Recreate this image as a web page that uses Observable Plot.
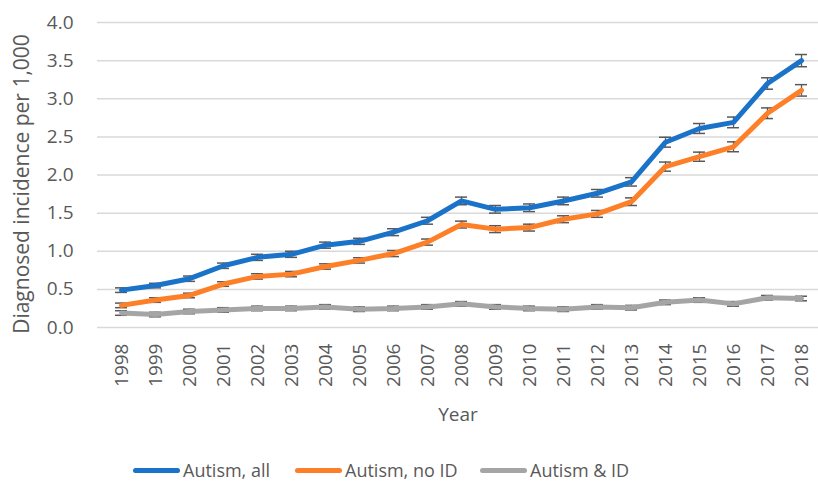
<!DOCTYPE html>
<html>
<head>
<meta charset="utf-8">
<script src="https://cdn.jsdelivr.net/npm/d3@7"></script>
<script src="https://cdn.jsdelivr.net/npm/@observablehq/plot@0.6"></script>
<style>
  html, body { margin: 0; padding: 0; background: #fff; }
  body { width: 818px; height: 489px; overflow: hidden; font-family: "Open Sans", sans-serif; }
  #legend { position: relative; height: 49px; }
  .item { position: absolute; top: 18px; display: flex; align-items: center; font-size: 18px; color: #595959; }
  .swatch { width: 47px; height: 5px; border-radius: 3px; margin-right: 3px; }
</style>
</head>
<body>
<div id="chart"></div>
<div id="legend"></div>
<script>
const years = [1998,1999,2000,2001,2002,2003,2004,2005,2006,2007,2008,2009,2010,2011,2012,2013,2014,2015,2016,2017,2018];
const autismAll  = [0.49,0.55,0.64,0.81,0.92,0.96,1.08,1.13,1.25,1.40,1.66,1.55,1.57,1.66,1.76,1.91,2.43,2.61,2.69,3.20,3.50];
const autismNoID = [0.29,0.36,0.42,0.57,0.67,0.70,0.80,0.88,0.97,1.12,1.35,1.29,1.31,1.42,1.49,1.65,2.11,2.24,2.37,2.81,3.11];
const autismID   = [0.19,0.17,0.21,0.23,0.25,0.25,0.27,0.24,0.25,0.27,0.31,0.27,0.25,0.24,0.27,0.26,0.33,0.36,0.31,0.39,0.38];
const errAll  = [0.03,0.03,0.035,0.035,0.04,0.04,0.04,0.04,0.045,0.045,0.05,0.05,0.05,0.05,0.05,0.055,0.065,0.065,0.07,0.075,0.08];
const errNoID = [0.03,0.03,0.03,0.03,0.035,0.035,0.035,0.035,0.04,0.04,0.045,0.045,0.045,0.045,0.045,0.05,0.06,0.06,0.065,0.07,0.075];
const errID   = [0.03,0.03,0.03,0.03,0.03,0.03,0.03,0.03,0.03,0.03,0.03,0.03,0.03,0.03,0.03,0.03,0.03,0.03,0.03,0.03,0.03];
const seriesNames = ["Autism, all", "Autism, no ID", "Autism & ID"];
const seriesColors = ["#1a73c9", "#fd7f28", "#a5a5a5"];
const yTicks = [0,0.5,1,1.5,2,2.5,3,3.5,4];
const yTitle = "Diagnosed incidence per 1,000";

const table = [];
[[autismAll, errAll], [autismNoID, errNoID], [autismID, errID]].forEach(([vals, errs], s) => {
  years.forEach((yr, i) => table.push({series: seriesNames[s], year: yr, value: vals[i], lo: vals[i] - errs[i], hi: vals[i] + errs[i]}));
});

const ink = "#595959";
const chart = Plot.plot({
  width: 818,
  height: 440,
  marginTop: 22,
  marginBottom: 113,
  marginLeft: 97,
  marginRight: 0,
  style: {fontFamily: "Open Sans", fontSize: "19px", color: ink, background: "#fff"},
  x: {type: "point", domain: years, range: [97, 825], padding: 0.5},
  y: {domain: [0, 4]},
  color: {domain: seriesNames, range: seriesColors},
  marks: [
    Plot.gridY(yTicks, {stroke: "#d9d9d9", strokeOpacity: 1, strokeWidth: 1.5}),
    Plot.axisY(yTicks, {tickSize: 0, tickPadding: 24, tickFormat: d3.format(".1f"), fontSize: 19, fill: ink, label: null}),
    Plot.text([yTitle], {text: d => d, frameAnchor: "left", rotate: -90, textAnchor: "middle", lineAnchor: "top",
      dx: -83, dy: 9, fontSize: 21, fill: ink}),
    Plot.axisX({tickRotate: -90, tickSize: 0, tickPadding: 16, fontSize: 19, fill: ink, tickFormat: d => String(d),
      label: "Year", labelAnchor: "center", labelOffset: 93, labelArrow: "none"}),
    Plot.ruleX(table, {x: "year", y1: "lo", y2: "hi", stroke: ink, strokeWidth: 1.3}),
    Plot.ruleY(table, {x1: "year", x2: "year", y: "lo", insetLeft: -6, insetRight: -6, stroke: ink, strokeWidth: 1.5}),
    Plot.ruleY(table, {x1: "year", x2: "year", y: "hi", insetLeft: -6, insetRight: -6, stroke: ink, strokeWidth: 1.5}),
    Plot.line(table, {x: "year", y: "value", z: "series", stroke: "series", strokeWidth: 5, strokeLinejoin: "round", strokeLinecap: "round"})
  ]
});
document.getElementById("chart").appendChild(chart);

const legend = document.getElementById("legend");
const lefts = [133, 295, 480];
seriesNames.forEach((name, i) => {
  const item = document.createElement("div");
  item.className = "item";
  item.style.left = lefts[i] + "px";
  const sw = document.createElement("span");
  sw.className = "swatch";
  sw.style.background = seriesColors[i];
  item.appendChild(sw);
  item.appendChild(document.createTextNode(name));
  legend.appendChild(item);
});
</script>
</body>
</html>
